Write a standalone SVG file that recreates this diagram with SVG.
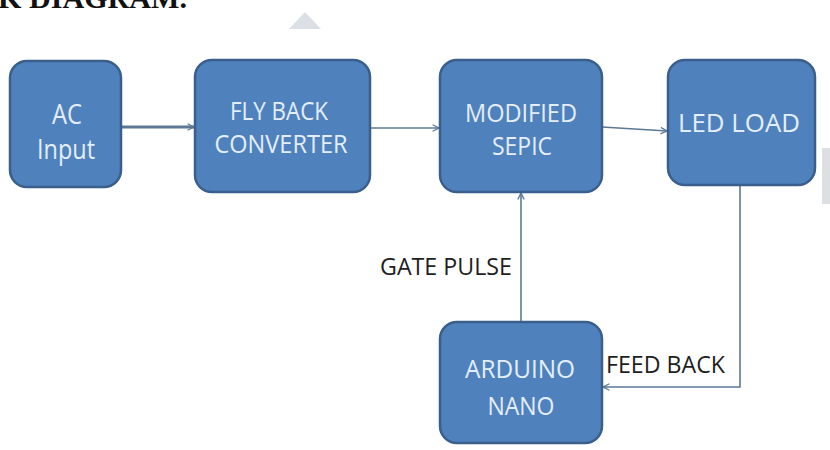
<svg xmlns="http://www.w3.org/2000/svg" width="830" height="450" viewBox="0 0 830 450">
  <style>
    .box { fill: #4f81bd; stroke: #3a5f8c; stroke-width: 2.5; }
    .lbl { font-family: "Open Sans", "Liberation Sans", sans-serif; font-size: 25px; fill: #e4eef9; text-anchor: middle; }
    .note { font-family: "Open Sans", "Liberation Sans", sans-serif; font-size: 24px; fill: #1e1e1e; }
    .wire { fill: none; stroke: #5b7894; stroke-width: 1.6; }
    .title { font-family: "Liberation Serif", "Times New Roman", serif; font-weight: bold; font-size: 30px; fill: #111; }
  </style>
  <defs>
    <marker id="arr" viewBox="0 0 10 10" refX="9" refY="5" markerWidth="8" markerHeight="8" markerUnits="userSpaceOnUse" orient="auto">
      <path d="M1,1 L9,5 L1,9" fill="none" stroke="#5b7894" stroke-width="1.6"/>
    </marker>
  </defs>

  <rect width="830" height="450" fill="#ffffff"/>

  <!-- page heading, cut at the top edge -->
  <text class="title" x="-2" y="8" textLength="189" lengthAdjust="spacingAndGlyphs">K DIAGRAM.</text>

  <!-- faint page marks -->
  <polygon points="305,12 289,29 321,29" fill="#dae0e5"/>
  <path d="M822,148 L830,148 L830,204 L822,204 Z" fill="#dde0e3"/>

  <g id="connectors">
    <line class="wire" x1="122" y1="127" x2="194" y2="127" style="stroke-width:3" marker-end="url(#arr)"/>
    <line class="wire" x1="370" y1="128" x2="439" y2="128" marker-end="url(#arr)"/>
    <line class="wire" x1="602" y1="127" x2="667" y2="131" marker-end="url(#arr)"/>
    <line class="wire" x1="521" y1="322" x2="521" y2="193" marker-end="url(#arr)"/>
    <polyline class="wire" points="740,185 740,387 603,387" marker-end="url(#arr)"/>
    <text class="note" x="380" y="275" textLength="132" lengthAdjust="spacingAndGlyphs">GATE PULSE</text>
    <text class="note" x="606" y="373" textLength="119" lengthAdjust="spacingAndGlyphs">FEED BACK</text>
  </g>

  <g id="ac-input">
    <rect class="box" x="10" y="61" width="111" height="126" rx="17"/>
    <text class="lbl" x="67" y="124" style="font-size:27px" textLength="30" lengthAdjust="spacingAndGlyphs">AC</text>
    <text class="lbl" x="66" y="159" style="font-size:27px" textLength="58" lengthAdjust="spacingAndGlyphs">Input</text>
  </g>

  <g id="flyback">
    <rect class="box" x="195" y="60" width="175" height="132" rx="17"/>
    <text class="lbl" x="279" y="120" textLength="98" lengthAdjust="spacingAndGlyphs">FLY BACK</text>
    <text class="lbl" x="281" y="153" textLength="133" lengthAdjust="spacingAndGlyphs">CONVERTER</text>
  </g>

  <g id="sepic">
    <rect class="box" x="440" y="60" width="162" height="132" rx="17"/>
    <text class="lbl" x="521" y="122" textLength="112" lengthAdjust="spacingAndGlyphs">MODIFIED</text>
    <text class="lbl" x="522" y="155" textLength="60" lengthAdjust="spacingAndGlyphs">SEPIC</text>
  </g>

  <g id="led-load">
    <rect class="box" x="668" y="60" width="147" height="125" rx="17"/>
    <text class="lbl" x="739" y="132" textLength="122" lengthAdjust="spacingAndGlyphs">LED LOAD</text>
  </g>

  <g id="arduino">
    <rect class="box" x="440" y="322" width="162" height="121" rx="17"/>
    <text class="lbl" x="520" y="378" textLength="110" lengthAdjust="spacingAndGlyphs">ARDUINO</text>
    <text class="lbl" x="521" y="415" textLength="67" lengthAdjust="spacingAndGlyphs">NANO</text>
  </g>
</svg>
